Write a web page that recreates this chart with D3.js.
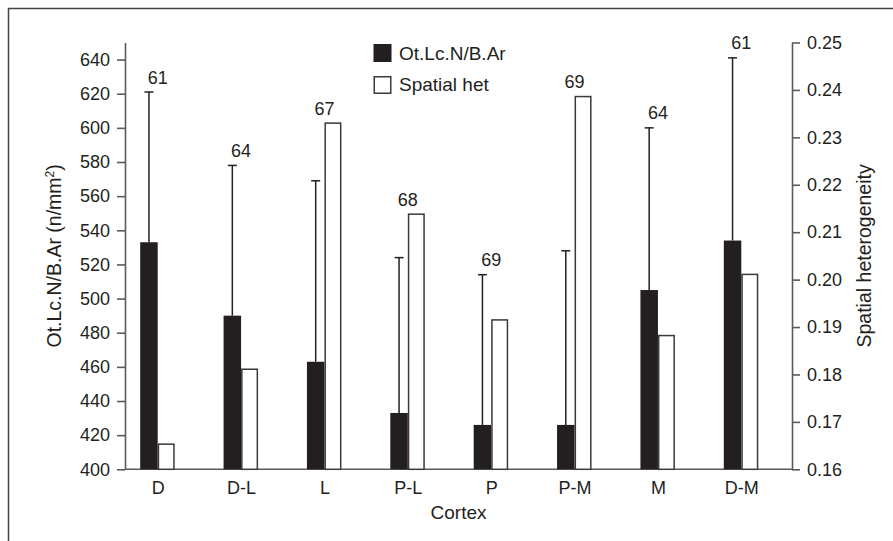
<!DOCTYPE html>
<html>
<head>
<meta charset="utf-8">
<script src="https://cdn.jsdelivr.net/npm/d3@7"></script>
<style>
  body { margin: 0; background: #fff; }
  svg { display: block; font-family: "Liberation Sans", Arial, Helvetica, sans-serif; }
  .axis path, .axis line { stroke: #5a5a5a; stroke-width: 1.6; }
  .axis text { fill: #231f20; font-size: 18px; font-family: "Liberation Sans", Arial, sans-serif; }
</style>
</head>
<body>
<div id="chart"></div>
<script>
var categories = ['D', 'D-L', 'L', 'P-L', 'P', 'P-M', 'M', 'D-M']
var otlcMean = [533, 490, 463, 433, 426, 426, 505, 534]
var otlcSD = [88, 88, 106, 91, 88, 102, 95, 107]
var spatialHet = [0.1653, 0.1811, 0.2330, 0.2138, 0.1915, 0.2386, 0.1882, 0.2011]
var nCounts = [61, 64, 67, 68, 69, 69, 64, 61]
var leftTicks = [400, 420, 440, 460, 480, 500, 520, 540, 560, 580, 600, 620, 640]
var rightTicks = [0.16, 0.17, 0.18, 0.19, 0.20, 0.21, 0.22, 0.23, 0.24, 0.25]

var cfg = {
  WIDTH: 893,
  HEIGHT: 541,
  left: 125,
  right: 792,
  top: 42.5,
  bottom: 469.3,
  barW: 17.5,
  ink: '#231f20'
}

var svg = d3.select('#chart').append('svg')
  .attr('width', cfg.WIDTH)
  .attr('height', cfg.HEIGHT)

// frame (top and left edges only)
svg.append('line')
  .attr('x1', 8).attr('y1', 8.5).attr('x2', cfg.WIDTH).attr('y2', 8.5)
  .attr('stroke', '#444').attr('stroke-width', 1.5)
svg.append('line')
  .attr('x1', 8.5).attr('y1', 8).attr('x2', 8.5).attr('y2', cfg.HEIGHT)
  .attr('stroke', '#444').attr('stroke-width', 1.5)

var xScale = d3.scalePoint()
  .domain(categories)
  .range([cfg.left + 32.7, cfg.right - 50.7])

var yLeft = d3.scaleLinear()
  .domain([400, 650])
  .range([cfg.bottom, cfg.top])

var yRight = d3.scaleLinear()
  .domain([0.16, 0.25])
  .range([cfg.bottom, cfg.top])

var rows = categories.map(function(c, i) {
  return { cat: c, mean: otlcMean[i], sd: otlcSD[i], het: spatialHet[i], n: nCounts[i] }
})

// axes
svg.append('g')
  .attr('class', 'axis')
  .attr('transform', 'translate(' + cfg.left + ',0)')
  .call(d3.axisLeft(yLeft).tickValues(leftTicks).tickSize(8).tickSizeOuter(0).tickPadding(7))

svg.append('g')
  .attr('class', 'axis')
  .attr('transform', 'translate(' + cfg.right + ',0)')
  .call(d3.axisRight(yRight).tickValues(rightTicks).tickSize(8).tickSizeOuter(0).tickPadding(7)
    .tickFormat(d3.format('.2f')))

var xAxisG = svg.append('g')
  .attr('class', 'axis')
  .attr('transform', 'translate(0,' + cfg.bottom + ')')
  .call(d3.axisBottom(xScale).tickSize(0).tickPadding(12))
xAxisG.select('.domain').attr('d', 'M' + cfg.left + ',0H' + cfg.right)

// error bars (mean + SD)
var err = svg.append('g')
  .attr('stroke', cfg.ink)
  .attr('stroke-width', 1.5)
err.selectAll('line.err')
  .data(rows)
  .enter()
  .append('line')
  .attr('class', 'err')
  .attr('x1', function(d) { return xScale(d.cat) - cfg.barW / 2 })
  .attr('x2', function(d) { return xScale(d.cat) - cfg.barW / 2 })
  .attr('y1', function(d) { return yLeft(d.mean) })
  .attr('y2', function(d) { return yLeft(d.mean + d.sd) })
err.selectAll('line.cap')
  .data(rows)
  .enter()
  .append('line')
  .attr('class', 'cap')
  .attr('x1', function(d) { return xScale(d.cat) - cfg.barW / 2 - 4.5 })
  .attr('x2', function(d) { return xScale(d.cat) - cfg.barW / 2 + 4.5 })
  .attr('y1', function(d) { return yLeft(d.mean + d.sd) })
  .attr('y2', function(d) { return yLeft(d.mean + d.sd) })

// black bars
svg.selectAll('rect.otlc')
  .data(rows)
  .enter()
  .append('rect')
  .attr('class', 'otlc')
  .attr('x', function(d) { return xScale(d.cat) - cfg.barW })
  .attr('width', cfg.barW)
  .attr('y', function(d) { return yLeft(d.mean) })
  .attr('height', function(d) { return cfg.bottom - yLeft(d.mean) })
  .attr('fill', cfg.ink)

// white bars
svg.selectAll('rect.het')
  .data(rows)
  .enter()
  .append('rect')
  .attr('class', 'het')
  .attr('x', function(d) { return xScale(d.cat) + 0.75 })
  .attr('width', cfg.barW - 2)
  .attr('y', function(d) { return yRight(d.het) })
  .attr('height', function(d) { return cfg.bottom - yRight(d.het) })
  .attr('fill', '#fff')
  .attr('stroke', '#3a3a3a')
  .attr('stroke-width', 1.5)

// n labels
svg.selectAll('text.n')
  .data(rows)
  .enter()
  .append('text')
  .attr('class', 'n')
  .attr('x', function(d) { return xScale(d.cat) })
  .attr('y', function(d) { return Math.min(yLeft(d.mean + d.sd), yRight(d.het)) - 8.5 })
  .attr('text-anchor', 'middle')
  .attr('fill', cfg.ink)
  .style('font-size', '18px')
  .text(function(d) { return d.n })

// axis titles
var lt = svg.append('text')
  .attr('transform', 'translate(61,' + (cfg.top + cfg.bottom) / 2 + ') rotate(-90)')
  .attr('text-anchor', 'middle')
  .attr('fill', cfg.ink)
  .style('font-size', '19.5px')
lt.append('tspan').text('Ot.Lc.N/B.Ar (n/mm')
lt.append('tspan').attr('dy', -7).style('font-size', '12px').text('2')
lt.append('tspan').attr('dy', 7).text(')')

svg.append('text')
  .attr('transform', 'translate(871,' + (cfg.top + cfg.bottom) / 2 + ') rotate(-90)')
  .attr('text-anchor', 'middle')
  .attr('fill', cfg.ink)
  .style('font-size', '19.5px')
  .text('Spatial heterogeneity')

svg.append('text')
  .attr('x', (cfg.left + cfg.right) / 2)
  .attr('y', 519)
  .attr('text-anchor', 'middle')
  .attr('fill', cfg.ink)
  .style('font-size', '19px')
  .text('Cortex')

// legend
var legend = svg.append('g').attr('transform', d3Translate(373.5, 44))
legend.append('rect')
  .attr('x', 0).attr('y', 0).attr('width', 18).attr('height', 18)
  .attr('fill', cfg.ink)
legend.append('rect')
  .attr('x', 0.75).attr('y', 32.75).attr('width', 16.5).attr('height', 16.5)
  .attr('fill', '#fff').attr('stroke', '#3a3a3a').attr('stroke-width', 1.5)
legend.append('text')
  .attr('x', 25.5).attr('y', 15.5)
  .attr('fill', cfg.ink).style('font-size', '19px')
  .text('Ot.Lc.N/B.Ar')
legend.append('text')
  .attr('x', 25.5).attr('y', 47)
  .attr('fill', cfg.ink).style('font-size', '19px')
  .text('Spatial het')

function d3Translate(x, y) {
  return 'translate(' + x + ',' + y + ')'
}
</script>
</body>
</html>
